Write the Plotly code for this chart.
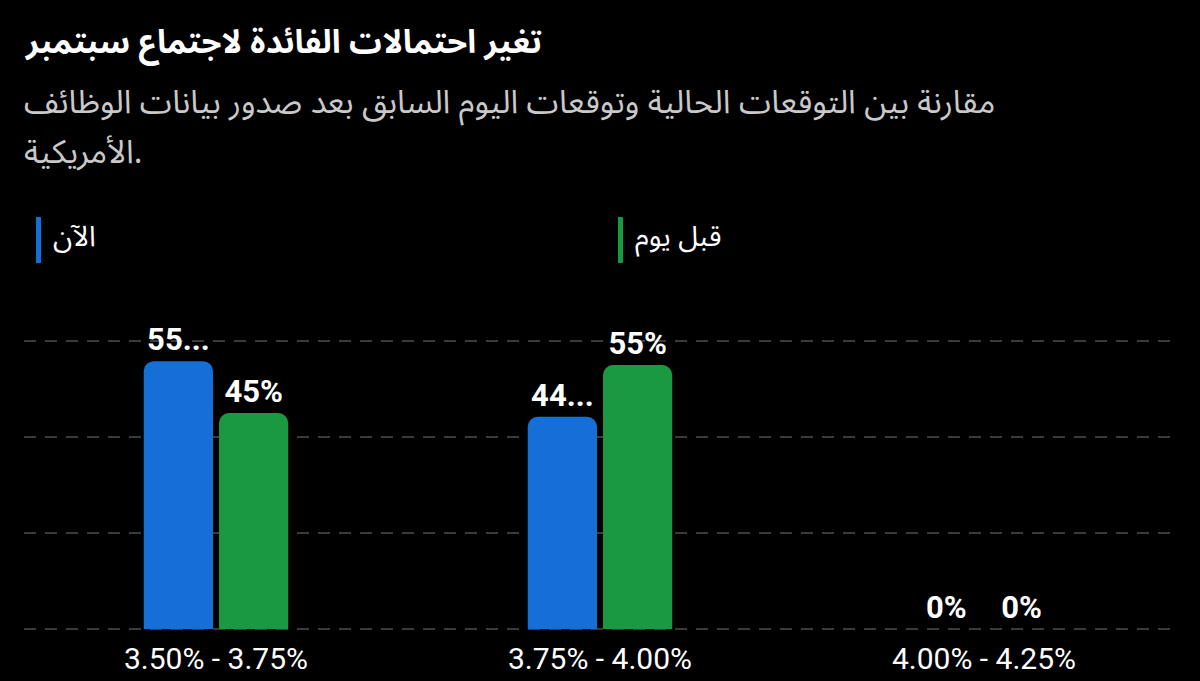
import plotly.graph_objects as go

# rate ranges for the September meeting
categories = ["3.50% - 3.75%", "3.75% - 4.00%", "4.00% - 4.25%"]

series_names = ["الآن", "قبل يوم"]
now_values = [55.8, 44.2, 0]
day_before_values = [45, 55, 0]
now_labels = ["55...", "44...", "0%"]
day_before_labels = ["45%", "55%", "0%"]

title_text = "تغير احتمالات الفائدة لاجتماع سبتمبر"
subtitle_lines = [
    "مقارنة بين التوقعات الحالية وتوقعات اليوم السابق بعد صدور بيانات الوظائف",
    "الأمريكية.",
]

BLUE = "#166fd6"
GREEN = "#1a9842"
AR_FONT = "Noto Sans Arabic, Noto Sans, DejaVu Sans, sans-serif"
NUM_FONT = "Roboto, sans-serif"

fig = go.Figure()
for name, vals, labels, color in [
    (series_names[0], now_values, now_labels, BLUE),
    (series_names[1], day_before_values, day_before_labels, GREEN),
]:
    fig.add_trace(go.Bar(
        x=categories,
        y=vals,
        name=name,
        text=labels,
        texttemplate="%{text}",
        textposition="outside",
        textfont=dict(family=NUM_FONT, size=31, color="white", weight="bold"),
        marker=dict(color=color, cornerradius=10, line=dict(width=0)),
        cliponaxis=False,
        showlegend=False,
    ))

# y: 0 -> 629px, 60 -> 341px (4.8 px per point), 3px padding each side
fig.update_layout(
    width=1200,
    height=681,
    paper_bgcolor="black",
    plot_bgcolor="black",
    margin=dict(l=24, r=24, t=338, b=49),
    barmode="group",
    bargap=0.608,
    bargroupgap=0.08,
    font=dict(family=NUM_FONT, color="white"),
    xaxis=dict(
        showgrid=False,
        showline=False,
        zeroline=False,
        automargin=False,
        ticks="",
        ticklabelstandoff=6,
        tickfont=dict(family=NUM_FONT, size=30, color="white"),
    ),
    yaxis=dict(
        range=[-0.625, 60.625],
        tickvals=[0, 20, 40, 60],
        showticklabels=False,
        automargin=False,
        showgrid=True,
        gridcolor="#3a3a3a",
        griddash="12px,9px",
        gridwidth=1.5,
        zeroline=False,
        showline=False,
    ),
)

def py(px_y):
    return (632 - px_y) / 294.0

def px_(px_x):
    return (px_x - 24) / 1152.0

annotations = [
    dict(text="<b>" + title_text + "</b>", x=px_(22), y=py(43), xref="paper", yref="paper",
         xanchor="left", yanchor="middle", showarrow=False,
         font=dict(family=AR_FONT, size=32.5, color="white")),
    dict(text=subtitle_lines[0], x=px_(22), y=py(103), xref="paper", yref="paper",
         xanchor="left", yanchor="middle", showarrow=False,
         font=dict(family=AR_FONT, size=32.5, color="#c9c9c9")),
    dict(text=subtitle_lines[1], x=px_(22), y=py(152), xref="paper", yref="paper",
         xanchor="left", yanchor="middle", showarrow=False,
         font=dict(family=AR_FONT, size=32.5, color="#c9c9c9")),
]

# custom legend: thin vertical bar + name
legend_pos = [(36, 51, BLUE), (618, 633, GREEN)]
shapes = []
for name, (bar_x, label_x, color) in zip(series_names, legend_pos):
    shapes.append(dict(type="rect", xref="paper", yref="paper",
                       x0=px_(bar_x), x1=px_(bar_x + 5), y0=py(263), y1=py(217),
                       fillcolor=color, line=dict(width=0)))
    annotations.append(dict(text=name, x=px_(label_x), y=py(237), xref="paper", yref="paper",
                            xanchor="left", yanchor="middle", showarrow=False,
                            font=dict(family=AR_FONT, size=28.5, color="white")))

fig.update_layout(annotations=annotations, shapes=shapes)

fig.write_html(
    "out.html",
    config={"displayModeBar": False},
    post_script="document.body.style.margin='0';",
)
